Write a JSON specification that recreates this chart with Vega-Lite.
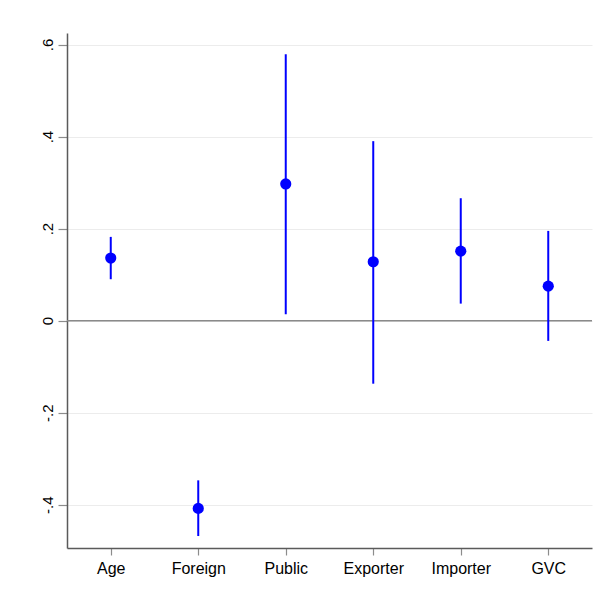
{
  "$schema": "https://vega.github.io/schema/vega-lite/v6.json",
  "autosize": {"type": "none"},
  "padding": {"left": 67, "top": 33, "right": 11, "bottom": 47},
  "width": 525,
  "height": 515,
  "background": "white",
  "config": {
    "view": {"stroke": null},
    "font": "Liberation Sans",
    "axis": {
      "labelFont": "Liberation Sans",
      "labelColor": "#000000",
      "domainColor": "#5a5a5a",
      "domainWidth": 1.5,
      "tickColor": "#8c8c8c",
      "tickWidth": 1.2,
      "gridColor": "#ececec",
      "gridWidth": 1
    }
  },
  "data": {
    "values": [
      {"var": "Age", "coef": 0.136, "lo": 0.090, "hi": 0.182},
      {"var": "Foreign", "coef": -0.408, "lo": -0.468, "hi": -0.347},
      {"var": "Public", "coef": 0.297, "lo": 0.014, "hi": 0.579},
      {"var": "Exporter", "coef": 0.128, "lo": -0.137, "hi": 0.390},
      {"var": "Importer", "coef": 0.151, "lo": 0.037, "hi": 0.266},
      {"var": "GVC", "coef": 0.075, "lo": -0.044, "hi": 0.195}
    ]
  },
  "encoding": {
    "x": {
      "field": "var",
      "type": "nominal",
      "sort": null,
      "scale": {"type": "point", "padding": 0.5},
      "axis": {
        "title": null,
        "labelAngle": 0,
        "labelFontSize": 16,
        "tickSize": 7,
        "labelPadding": 5,
        "grid": false
      }
    }
  },
  "layer": [
    {
      "mark": {"type": "rule", "color": "#8a8a8a", "strokeWidth": 1.5},
      "data": {"values": [{"zero": 0}]},
      "encoding": {
        "x": null,
        "y": {"field": "zero", "type": "quantitative"}
      }
    },
    {
      "mark": {"type": "rule", "color": "#0000ff", "strokeWidth": 2},
      "encoding": {
        "y": {
          "field": "lo",
          "type": "quantitative",
          "scale": {"domain": [-0.494, 0.625], "nice": false, "zero": false},
          "axis": {
            "title": null,
            "values": [-0.4, -0.2, 0, 0.2, 0.4, 0.6],
            "labelExpr": "datum.value == 0 ? '0' : (datum.value < 0 ? '-' : '') + '.' + abs(round(datum.value * 10))",
            "labelAngle": -90,
            "labelAlign": "center",
            "labelBaseline": "bottom",
            "labelFontSize": 15,
            "tickSize": 9,
            "labelPadding": 3,
            "grid": true
          }
        },
        "y2": {"field": "hi"}
      }
    },
    {
      "mark": {"type": "point", "filled": true, "color": "#0000ff", "opacity": 1, "size": 125},
      "encoding": {
        "y": {"field": "coef", "type": "quantitative"}
      }
    }
  ]
}
